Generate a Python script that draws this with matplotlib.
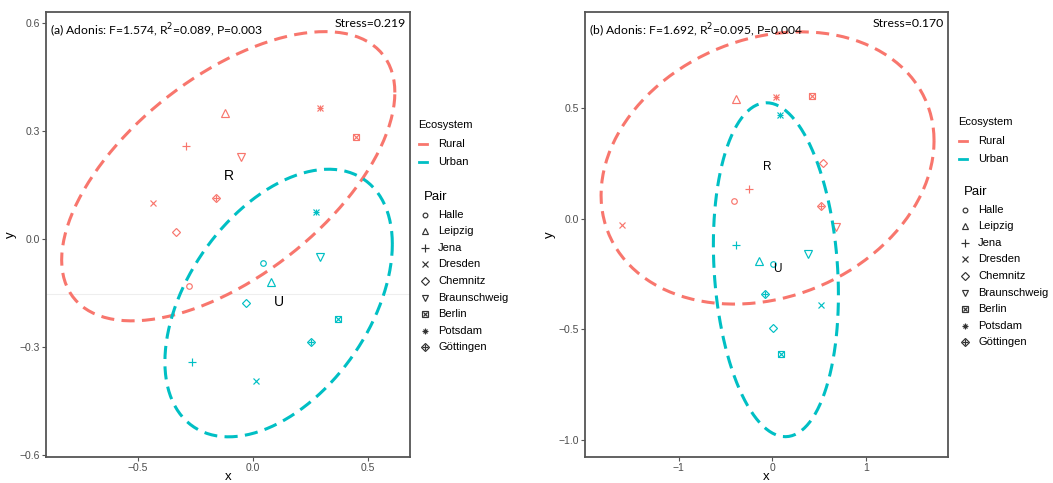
import numpy as np
import matplotlib
matplotlib.use("Agg")
import matplotlib.pyplot as plt
from matplotlib.lines import Line2D

# 데이터
pairs = ["Halle", "Leipzig", "Jena", "Dresden", "Chemnitz",
         "Braunschweig", "Berlin", "Potsdam", "Göttingen"]
ecosystems = ["Rural", "Urban"]

# panel (a)
a_rural_x = [-0.277, -0.122, -0.291, -0.436, -0.335, -0.053, 0.447, 0.291, -0.162]
a_rural_y = [-0.130, 0.350, 0.258, 0.100, 0.019, 0.228, 0.284, 0.364, 0.113]
a_urban_x = [0.042, 0.080, -0.265, 0.013, -0.030, 0.293, 0.371, 0.274, 0.251]
a_urban_y = [-0.065, -0.118, -0.341, -0.394, -0.177, -0.051, -0.223, 0.075, -0.286]

# panel (b)
b_rural_x = [-0.409, -0.390, -0.249, -1.604, 0.544, 0.677, 0.420, 0.040, 0.517]
b_rural_y = [0.078, 0.539, 0.132, -0.031, 0.252, -0.037, 0.554, 0.551, 0.057]
b_urban_x = [0.004, -0.139, -0.390, 0.520, 0.011, 0.384, 0.090, 0.082, -0.078]
b_urban_y = [-0.204, -0.192, -0.120, -0.390, -0.494, -0.162, -0.615, 0.468, -0.342]

# 95% 타원 (Rural, Urban): 중심, x/y 반폭, 상관
a_ell_cx = [-0.1075, 0.1115]
a_ell_cy = [0.1745, -0.1775]
a_ell_hx = [0.7245, 0.4945]
a_ell_hy = [0.4015, 0.3715]
a_ell_rho = [0.579, 0.44]

b_ell_cx = [-0.0515, 0.0375]
b_ell_cy = [0.229, -0.2315]
b_ell_hx = [1.7775, 0.6675]
b_ell_hy = [0.616, 0.7555]
b_ell_rho = [0.2, -0.15]

titles = ["(a) Adonis: F=1.574, R$^2$=0.089, P=0.003",
          "(b) Adonis: F=1.692, R$^2$=0.095, P=0.004"]
stress = ["Stress=0.219", "Stress=0.170"]

RED = "#F8766D"
CYAN = "#00BFC4"
eco_colors = [RED, CYAN]

# ggplot 모양 1..9 흉내
shape_parts = {
    "Halle": [("o", True)],
    "Leipzig": [("^", True)],
    "Jena": [("+", False)],
    "Dresden": [("x", False)],
    "Chemnitz": [("D", True)],
    "Braunschweig": [("v", True)],
    "Berlin": [("s", True), ("x", False)],
    "Potsdam": [("+", False), ("x", False)],
    "Göttingen": [("D", True), ("+", False)],
}
shape_size = {"o": 4.0, "^": 5.2, "+": 6.2, "x": 4.8, "D": 4.4, "v": 5.2, "s": 4.8}


def draw_point(ax, x, y, name, color, scale=1.0, transform=None):
    for m, hollow in shape_parts[name]:
        kw = dict(marker=m, markersize=shape_size[m] * scale, markeredgewidth=0.85,
                  color=color, linestyle="none")
        if hollow:
            kw["markerfacecolor"] = "none"
        if m in ("x", "+") and len(shape_parts[name]) > 1:
            kw["markersize"] = shape_size[m] * scale * 0.8
        if transform is not None:
            kw["transform"] = transform
            kw["clip_on"] = False
        ax.plot([x], [y], **kw)


def ellipse_xy(cx, cy, hx, hy, rho, segments=120):
    t = np.linspace(0, 2 * np.pi, segments + 1)
    ex = cx + hx * np.cos(t)
    ey = cy + hy * (rho * np.cos(t) + np.sqrt(1 - rho ** 2) * np.sin(t))
    return ex, ey


panels = [
    dict(data=[(a_rural_x, a_rural_y), (a_urban_x, a_urban_y)],
         ell=(a_ell_cx, a_ell_cy, a_ell_hx, a_ell_hy, a_ell_rho),
         xlim=(-0.90, 0.683), ylim=(-0.605, 0.63),
         xticks=[-0.5, 0.0, 0.5], yticks=[-0.6, -0.3, 0.0, 0.3, 0.6],
         xfmt="{:.1f}", yfmt="{:.1f}", lab_size=10, rect=[0.0437, 0.0538, 0.3457, 0.921],
         leg_x=0.397, leg_y=0.741, pair_off=72),
    dict(data=[(b_rural_x, b_rural_y), (b_urban_x, b_urban_y)],
         ell=(b_ell_cx, b_ell_cy, b_ell_hx, b_ell_hy, b_ell_rho),
         xlim=(-2.0, 1.875), ylim=(-1.079, 0.934),
         xticks=[-1, 0, 1], yticks=[-1.0, -0.5, 0.0, 0.5],
         xfmt="{:.0f}", yfmt="{:.1f}", lab_size=8.5, rect=[0.5556, 0.0538, 0.3447, 0.921],
         leg_x=0.910, leg_y=0.747, pair_off=70),
]

fig = plt.figure(figsize=(10.53, 4.83), dpi=100)

for i, p in enumerate(panels):
    ax = fig.add_axes(p["rect"])
    ax.set_xlim(p["xlim"])
    ax.set_ylim(p["ylim"])

    if i == 0:
        ax.axhline(-0.153, color="#eeeeee", lw=0.8, zorder=0)

    for g, ((xs, ys), col, lab) in enumerate(zip(p["data"], eco_colors, ["R", "U"])):
        ex, ey = ellipse_xy(*[arr[g] for arr in p["ell"]])
        ax.plot(ex, ey, color=col, lw=2.2, dashes=(4.3, 2.4), solid_capstyle="butt")
        for px, py, name in zip(xs, ys, pairs):
            draw_point(ax, px, py, name, col)
        ax.text(np.mean(xs), np.mean(ys), lab, ha="center", va="center",
                fontsize=p["lab_size"], color="black", family="Liberation Sans")

    ax.set_xticks(p["xticks"])
    ax.set_xticklabels([p["xfmt"].format(v).replace("-", "\u2212") for v in p["xticks"]])
    ax.set_yticks(p["yticks"])
    ax.set_yticklabels([p["yfmt"].format(v).replace("-", "\u2212") for v in p["yticks"]])
    ax.tick_params(length=3, width=0.8, color="#555555", labelcolor="#4d4d4d",
                   labelsize=7.5, pad=1.5)
    for lbl in ax.get_xticklabels() + ax.get_yticklabels():
        lbl.set_family("Liberation Sans")
    for s in ax.spines.values():
        s.set_color("#555555")
        s.set_linewidth(1.3)
    ax.set_xlabel("x", fontsize=9.5, family="Liberation Sans", labelpad=-1.5)
    ax.set_ylabel("y", fontsize=9.5, family="Liberation Sans", labelpad=2)

    ax.text(0.012, 0.977, titles[i], transform=ax.transAxes, ha="left", va="top",
            fontsize=8.7, family="Lato")
    ax.text(0.988, 0.987, stress[i], transform=ax.transAxes, ha="right", va="top",
            fontsize=8.8, family="Lato")

    # 범례
    lx, ly = p["leg_x"], p["leg_y"]
    dy = 16.6 / 483
    fig.text(lx, ly, "Ecosystem", fontsize=8, family="Liberation Sans", va="center")
    for k, (eco, col) in enumerate(zip(ecosystems, eco_colors)):
        yy = ly - (19 + k * 17.5) / 483
        fig.add_artist(Line2D([lx + 1 / 1053, lx + 9 / 1053], [yy, yy], color=col, lw=2,
                              transform=fig.transFigure))
        fig.text(lx + 20 / 1053, yy, eco, fontsize=8, family="Liberation Sans", va="center")
    py0 = ly - p["pair_off"] / 483
    fig.text(lx + 6 / 1053, py0, "Pair", fontsize=9.5, family="Liberation Sans", va="center")
    for k, name in enumerate(pairs):
        yy = py0 - 17.5 / 483 - k * dy
        draw_point(ax, lx + 7 / 1053, yy, name, "#333333", scale=0.85, transform=fig.transFigure)
        fig.text(lx + 20 / 1053, yy, name, fontsize=8, family="Liberation Sans", va="center")

fig.savefig("out.png", dpi=100)
